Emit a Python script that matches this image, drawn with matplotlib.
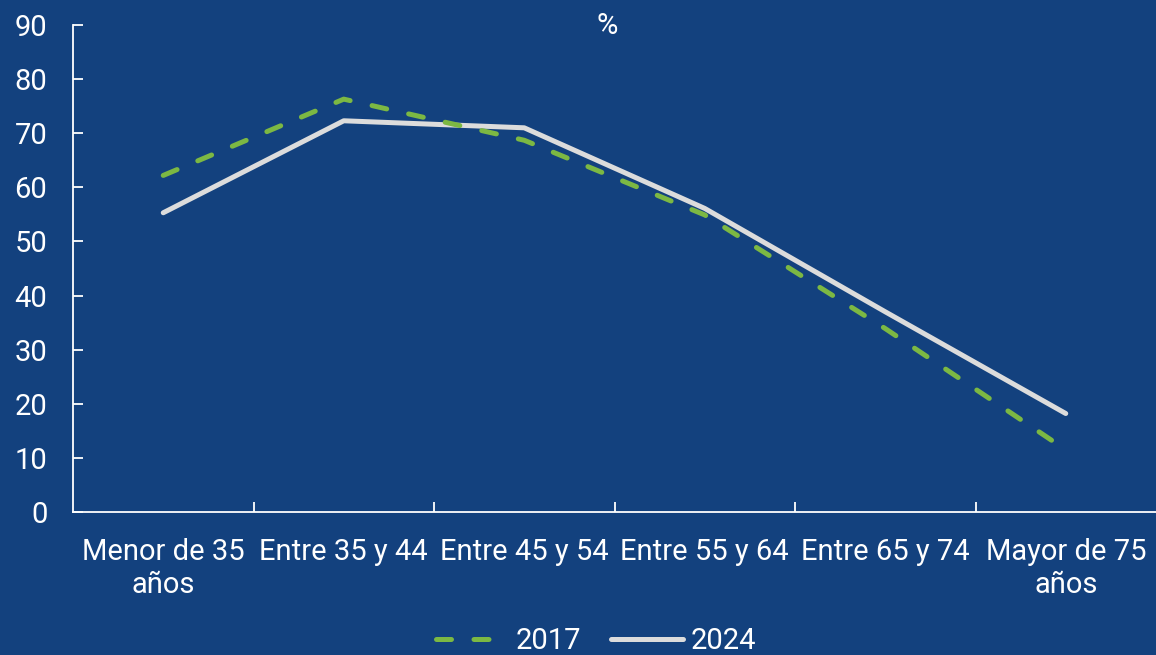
import matplotlib
matplotlib.use("Agg")
import matplotlib.pyplot as plt
from matplotlib.ticker import FixedLocator

categories = ["Menor de 35\naños", "Entre 35 y 44", "Entre 45 y 54",
              "Entre 55 y 64", "Entre 65 y 74", "Mayor de 75\naños"]
values_2017 = [62.2, 76.3, 68.7, 54.9, 33.9, 11.5]
values_2024 = [55.3, 72.3, 71.0, 56.1, 37.0, 18.2]
y_ticks = [0, 10, 20, 30, 40, 50, 60, 70, 80, 90]

BG = "#13417e"
GREEN = "#7cb843"
WHITE_LINE = "#dcdcdc"
FS = 21

plt.rcParams['font.family'] = ['Roboto', 'DejaVu Sans']

fig = plt.figure(figsize=(11.56, 6.55), dpi=100, facecolor=BG)
ax = fig.add_axes([73/1156, 1-512/655, 1-73/1156, (512-25)/655])
ax.set_facecolor(BG)

x = list(range(len(categories)))
ax.plot(x, values_2017, color=GREEN, lw=3.6, linestyle=(0, (3.0, 4.5)),
        dash_capstyle='round', label="2017", zorder=3)
ax.plot(x, values_2024, color=WHITE_LINE, lw=3.6, solid_capstyle='round',
        label="2024", zorder=2)

ax.set_xlim(-0.5, len(categories) - 0.5)
ax.set_ylim(0, 90)
ax.set_yticks(y_ticks)
ax.set_xticks(x)
ax.set_xticklabels(categories)
ax.xaxis.set_minor_locator(FixedLocator([i + 0.5 for i in range(len(categories) - 1)]))

for s in ['top', 'right']:
    ax.spines[s].set_visible(False)
for s in ['left', 'bottom']:
    ax.spines[s].set_color('white')
    ax.spines[s].set_linewidth(1.3)

ax.tick_params(axis='y', direction='in', length=7, width=1.3, color='white',
               labelcolor='white', labelsize=FS, pad=18.5)
ax.tick_params(axis='x', which='major', length=0, labelcolor='white',
               labelsize=FS, pad=19)
ax.tick_params(axis='x', which='minor', direction='in', length=7, width=1.3,
               color='white')

fig.text(607/1156, 1-26/655, "%", color='white', fontsize=FS,
         ha='center', va='center')

leg = fig.legend(loc='center', bbox_to_anchor=(596/1156, 1-641/655),
                 ncol=2, frameon=False, fontsize=FS, labelcolor='white',
                 handlelength=2.5, handletextpad=0.25, columnspacing=1.0)

fig.savefig("out.png", dpi=100, facecolor=BG)
